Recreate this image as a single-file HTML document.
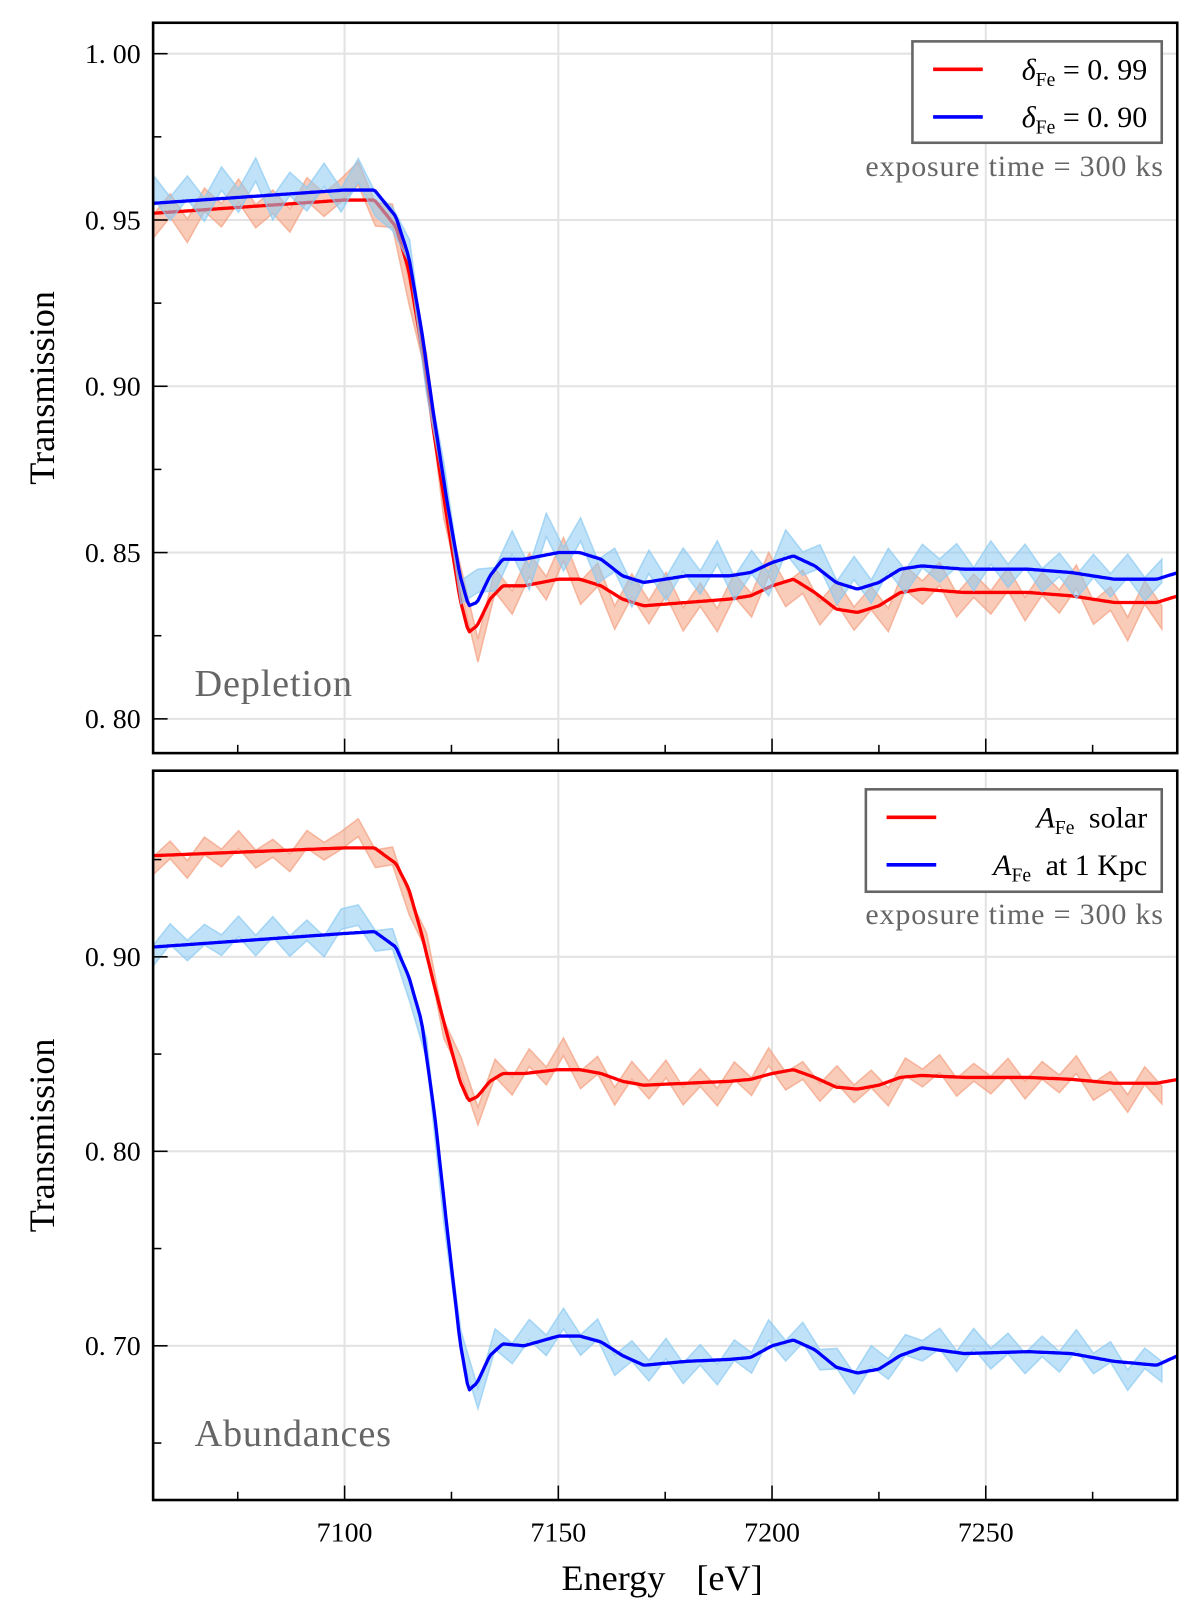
<!DOCTYPE html>
<html><head><meta charset="utf-8">
<style>
html,body{margin:0;padding:0;background:#fff;}
svg{display:block;font-family:"Liberation Serif",serif;}
</style></head>
<body>
<svg id="chart" width="1200" height="1622" viewBox="0 0 1200 1622" xmlns="http://www.w3.org/2000/svg"><g id="root" transform="scale(1.0345)"></g></svg>
<script>
// ---- data ----
const energies = [7055,7100,7107,7112,7115,7118,7121,7124,7127,7129,7131,7134,7137,7142,7150,7155,7160,7165,7170,7180,7190,7195,7200,7205,7210,7215,7220,7225,7230,7235,7245,7260,7270,7280,7290,7295];
const redSolar = [0.952,0.956,0.956,0.948,0.935,0.912,0.885,0.860,0.836,0.826,0.828,0.836,0.840,0.840,0.842,0.842,0.840,0.836,0.834,0.835,0.836,0.837,0.840,0.842,0.838,0.833,0.832,0.834,0.838,0.839,0.838,0.838,0.837,0.835,0.835,0.837];
const blueDepl = [0.955,0.959,0.959,0.951,0.939,0.917,0.890,0.865,0.843,0.834,0.835,0.843,0.848,0.848,0.850,0.850,0.848,0.843,0.841,0.843,0.843,0.844,0.847,0.849,0.846,0.841,0.839,0.841,0.845,0.846,0.845,0.845,0.844,0.842,0.842,0.844];
const blueAbund = [0.905,0.912,0.913,0.905,0.890,0.867,0.820,0.760,0.702,0.677,0.681,0.695,0.701,0.700,0.705,0.705,0.702,0.695,0.690,0.692,0.693,0.694,0.700,0.703,0.698,0.689,0.686,0.688,0.695,0.699,0.696,0.697,0.696,0.692,0.690,0.695];
// noise offsets (x0.001) every 4 eV from 7055
const noiseA = [-4,2,-6,3,-2,5,-3,1,-5,4,-1,3,8,-4,2,-6,5,-3,7,-8,4,-5,6,-2,9,-4,3,-7,5,-2,6,-5,2,-6,4,-3,7,-4,1,-5,5,-2,3,-6,4,-1,5,-4,2,-3,4,-5,3,-2,6,-4,1,-8,3,-5,2];
const noiseB = [5,-2,4,-3,6,-1,8,-4,3,-2,5,-3,6,-4,-2,3,-5,2,-4,6,-3,5,-6,9,-2,7,-4,3,-5,6,-3,5,-2,7,-4,3,-6,5,-1,4,-3,6,-2,5,-4,3,-1,4,-3,5,-2,4,-3,2,-4,3,-2,4,-3,2,-1];
const noiseC = [-3,4,-2,3,-1,5,-2,4,-3,2,-4,5,6,-3,2,-4,3,-5,2,-6,4,-3,5,-2,6,-3,4,-5,3,-2,5,-4,2,-5,3,-2,6,-3,4,-2,3,-4,5,-2,3,-1,4,-3,5,-2,3,-4,2,-3,5,-2,3,-6,2,-3,4];
const xTicks = [7100,7150,7200,7250];
const yTicksTop = [0.80,0.85,0.90,0.95,1.00];
const yTicksBot = [0.70,0.80,0.90];

// ---- layout ----
const svg = document.getElementById('root');
const NS = 'http://www.w3.org/2000/svg';
const X0=148,X1=1138, E0=7055.2, E1=7294.8;
const xs = e => X0 + (e-E0)/(E1-E0)*(X1-X0);
const panels = [
 {top:22,bot:728,v0:0.7897,v1:1.0093,ticks:yTicksTop,minor:0.025,name:'depletion'},
 {top:745,bot:1450,v0:0.6207,v1:0.9957,ticks:yTicksBot,minor:0.05,name:'abundances'}
];
function el(tag, attrs, parent){const e=document.createElementNS(NS,tag);for(const k in attrs)e.setAttribute(k,attrs[k]);(parent||svg).appendChild(e);return e;}
function interp(arr,e){for(let i=0;i<energies.length-1;i++){if(e<=energies[i+1]){const t=(e-energies[i])/(energies[i+1]-energies[i]);return arr[i]+t*(arr[i+1]-arr[i]);}}return arr[arr.length-1];}

function drawSeries(parent, ys, arr, noise, scale, bandColor, lineColor, name){
  const g = el('g',{},parent);
  
  
  let up=[],lo=[];
  for(let i=0;i<noise.length;i++){
    const e=E0+i*4; if(e>E1+0.1) break;
    const v=interp(arr,e)+noise[i]*0.001*scale;
    const w=0.0035*scale;
    up.push(xs(e).toFixed(1)+','+ys(v+w).toFixed(1));
    lo.unshift(xs(e).toFixed(1)+','+ys(v-w).toFixed(1));
  }
  const band = el('polygon',{points:up.concat(lo).join(' '),fill:bandColor,'fill-opacity':0.55,stroke:bandColor,'stroke-width':1.5,'stroke-opacity':0.7},g);
  
  
  let pts=[];
  for(let e=E0;e<=E1;e+=0.5){pts.push(xs(e).toFixed(1)+','+ys(interp(arr,e)).toFixed(1));}
  const line = el('polyline',{points:pts.join(' '),fill:'none',stroke:lineColor,'stroke-width':3.2,'stroke-linejoin':'round'},g);
  
  
}

panels.forEach((p,pi)=>{
  const ys = v => p.bot - (v-p.v0)/(p.v1-p.v0)*(p.bot-p.top);
  const clip = el('clipPath',{id:'c'+pi}); el('rect',{x:X0,y:p.top,width:X1-X0,height:p.bot-p.top},clip);
  xTicks.forEach(t=>{const l=el('line',{x1:xs(t),x2:xs(t),y1:p.top,y2:p.bot,stroke:'#e3e3e3','stroke-width':2});
    });
  p.ticks.forEach(t=>{const l=el('line',{x1:X0,x2:X1,y1:ys(t),y2:ys(t),stroke:'#e3e3e3','stroke-width':2});
    });
  const g = el('g',{'clip-path':'url(#c'+pi+')'});
  const series = pi===0
    ? [[redSolar,noiseA,1,'#f4a080','#ff0000','red-series'],[blueDepl,noiseB,1,'#8ccbf2','#0000ff','blue-series']]
    : [[redSolar,noiseA,1.3,'#f4a080','#ff0000','red-series'],[blueAbund,noiseC,1.5,'#8ccbf2','#0000ff','blue-series']];
  series.forEach(s=>drawSeries(g,ys,s[0],s[1],s[2],s[3],s[4],s[5]));
  const fr = el('rect',{x:X0,y:p.top,width:X1-X0,height:p.bot-p.top,fill:'none',stroke:'#000','stroke-width':2.5});
  
  for(let t=7075;t<=7290;t+=25){
    const major = t%50===0;
    el('line',{x1:xs(t),x2:xs(t),y1:p.bot,y2:p.bot-(major?14:8),stroke:'#000','stroke-width':1.5});
  }
  if(pi===1){
    xTicks.forEach(t=>{const tx=el('text',{x:xs(t),y:p.bot+40,'font-size':27,'text-anchor':'middle'});tx.textContent=t;
      });
  }
  for(let v=Math.ceil(p.v0/p.minor)*p.minor; v<=p.v1; v+=p.minor){
    const major = p.ticks.some(t=>Math.abs(t-v)<1e-6);
    el('line',{x1:X0,x2:X0+(major?14:8),y1:ys(v),y2:ys(v),stroke:'#000','stroke-width':1.5});
  }
  p.ticks.forEach(t=>{const tx=el('text',{x:X0-12,y:ys(t)+9,'font-size':27,'text-anchor':'end'});tx.textContent=t.toFixed(2).replace('.','. ');
    });
  const yt=el('text',{x:0,y:0,'font-size':35,'text-anchor':'middle',transform:'translate(52,'+((p.top+p.bot)/2)+') rotate(-90)'});
  yt.textContent='Transmission';
});

function legend(x,y,w,h,entries,name){
  const g=el('g',{});
  
  
  el('rect',{x:x,y:y,width:w,height:h,fill:'#fff',stroke:'#666','stroke-width':2.5},g);
  entries.forEach((e,i)=>{
    const cy=y+27+i*46;
    el('line',{x1:x+20,x2:x+68,y1:cy,y2:cy,stroke:e[0],'stroke-width':3.5},g);
    const t=el('text',{x:x+w-14,y:cy+10,'font-size':29,'text-anchor':'end'},g);
    t.innerHTML=e[1];
  });
}
legend(882,40,241,98,[['#ff0000','<tspan font-style="italic">δ</tspan><tspan font-size="19" dy="6">Fe</tspan><tspan dy="-6"> = 0. 99</tspan>'],['#0000ff','<tspan font-style="italic">δ</tspan><tspan font-size="19" dy="6">Fe</tspan><tspan dy="-6"> = 0. 90</tspan>']],'legend-depletion');
legend(837,763,286,99,[['#ff0000','<tspan font-style="italic">A</tspan><tspan font-size="19" dy="6">Fe</tspan><tspan dy="-6" dx="14">solar</tspan>'],['#0000ff','<tspan font-style="italic">A</tspan><tspan font-size="19" dy="6">Fe</tspan><tspan dy="-6" dx="14">at 1 Kpc</tspan>']],'legend-abundances');
[[170,'exposure-time-top'],[893,'exposure-time-bottom']].forEach(a=>{
  const t=el('text',{x:1125,y:a[0],'font-size':29,'text-anchor':'end',fill:'#666','letter-spacing':'0.8'});t.textContent='exposure time = 300 ks';
  });
[[673,'Depletion','panel-label-depletion'],[1398,'Abundances','panel-label-abundances']].forEach(a=>{
  const t=el('text',{x:188,y:a[0],'font-size':37,fill:'#666','letter-spacing':'0.8'});t.textContent=a[1];
  });
const xt=el('text',{x:640,y:1537,'font-size':35,'text-anchor':'middle'});
xt.innerHTML='<tspan>Energy</tspan><tspan dx="30">[eV]</tspan>';

</script>
</body></html>
